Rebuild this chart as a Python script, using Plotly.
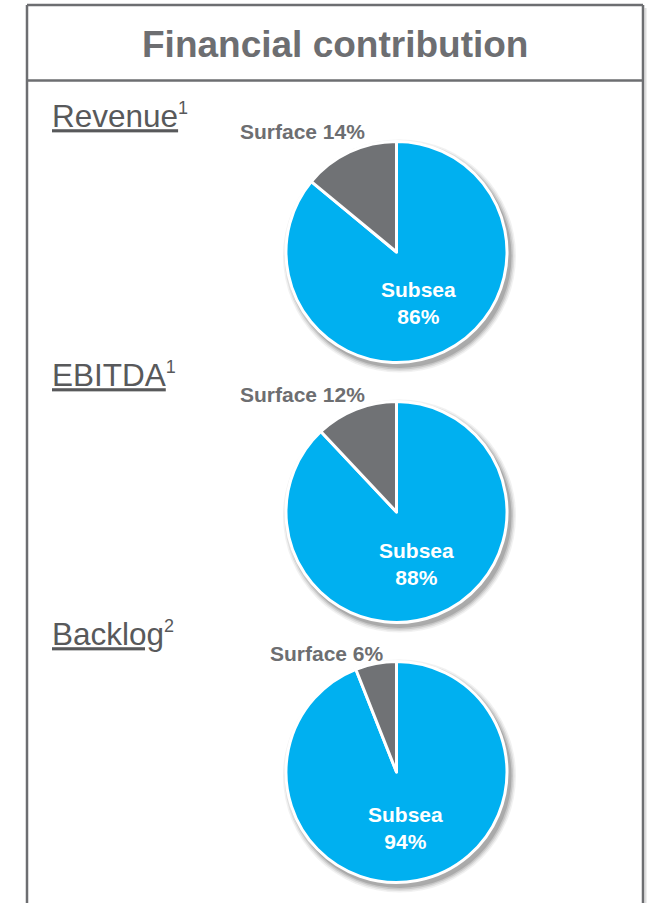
import plotly.graph_objects as go

W, H = 651, 903

# ---- data ----
panels = ["Revenue", "EBITDA", "Backlog"]
footnotes = ["1", "1", "2"]
segments = ["Subsea", "Surface"]
subsea_pct = [86, 88, 94]
surface_pct = [14, 12, 6]
title_text = "Financial contribution"

# ---- style ----
BLUE = "#00B0F0"
GREY_SLICE = "#707275"
TEXT_GREY = "#6D6E71"
LABEL_GREY = "#58595B"
BORDER = "#6D6E71"
FONT = "Liberation Sans, Arial, sans-serif"

cx = 396.5
cys = [252, 512, 772]
R = 110.5

# label layout (pixels)
surf_lbl = [(302.5, 132), (302.5, 394), (326.5, 653)]
sub_lbl = [(419, 303), (416.5, 564), (405.5, 828)]
left_lbl_y = [116, 375, 634]


def px(x):
    return x / W


def py(y):
    return (H - y) / H


fig = go.Figure()
shapes = []
annotations = []

for i, name in enumerate(panels):
    cy = cys[i]
    vals = [subsea_pct[i], surface_pct[i]]
    fig.add_trace(go.Pie(
        labels=segments,
        values=vals,
        sort=False,
        direction="clockwise",
        rotation=0,
        marker=dict(colors=[BLUE, GREY_SLICE], line=dict(color="white", width=3)),
        textinfo="none",
        hoverinfo="label+percent",
        showlegend=False,
        domain=dict(x=[px(cx - R), px(cx + R)], y=[py(cy + R), py(cy - R)]),
    ))
    # soft drop shadow
    for k, (grow, op) in enumerate([(6, 0.07), (4.5, 0.1), (3, 0.14), (1.5, 0.2)]):
        r2 = R + grow
        ox, oy = 3, 4
        shapes.append(dict(
            type="circle", xref="paper", yref="paper", layer="below",
            x0=px(cx + ox - r2), x1=px(cx + ox + r2),
            y0=py(cy + oy + r2), y1=py(cy + oy - r2),
            fillcolor=f"rgba(60,60,60,{op})", line=dict(width=0),
        ))
    # outside label for small slice
    sx, sy = surf_lbl[i]
    annotations.append(dict(
        x=px(sx), y=py(sy), xref="paper", yref="paper",
        xanchor="center", yanchor="middle", showarrow=False,
        text=f"<b>{segments[1]} {surface_pct[i]}%</b>",
        font=dict(family=FONT, size=21, color=TEXT_GREY),
    ))
    # inside label for big slice
    bx, by = sub_lbl[i]
    annotations.append(dict(
        x=px(bx), y=py(by), xref="paper", yref="paper",
        xanchor="center", yanchor="middle", showarrow=False,
        text=f"<b>{segments[0]}<br>{subsea_pct[i]}%</b>",
        font=dict(family=FONT, size=21, color="white"),
    ))
    # panel label on the left
    annotations.append(dict(
        x=px(50), y=py(left_lbl_y[i]), xref="paper", yref="paper",
        xanchor="left", yanchor="middle", showarrow=False,
        text=f"<u>{name}</u><sup><span style='font-size:18px'>{footnotes[i]}</span></sup>",
        font=dict(family=FONT, size=31.5, color=LABEL_GREY),
    ))

# title
annotations.append(dict(
    x=px(335), y=py(44.5), xref="paper", yref="paper",
    xanchor="center", yanchor="middle", showarrow=False,
    text=f"<b>{title_text}</b>",
    font=dict(family=FONT, size=37, color=TEXT_GREY),
))

# frame
L, Rr, T, SEP = 27, 643, 5, 80.5
shapes.append(dict(type="line", xref="paper", yref="paper", x0=px(Rr + 2.5), x1=px(Rr + 2.5),
                   y0=py(T + 3), y1=py(H + 10), line=dict(color="rgba(120,120,120,0.25)", width=2)))
shapes.append(dict(type="line", xref="paper", yref="paper", x0=px(L), x1=px(L),
                   y0=py(T), y1=py(H + 10), line=dict(color=BORDER, width=2.5)))
shapes.append(dict(type="line", xref="paper", yref="paper", x0=px(Rr), x1=px(Rr),
                   y0=py(T), y1=py(H + 10), line=dict(color=BORDER, width=2.5)))
shapes.append(dict(type="line", xref="paper", yref="paper", x0=px(L), x1=px(Rr),
                   y0=py(T), y1=py(T), line=dict(color=BORDER, width=2.5)))
shapes.append(dict(type="line", xref="paper", yref="paper", x0=px(L), x1=px(Rr),
                   y0=py(SEP), y1=py(SEP), line=dict(color=BORDER, width=2.5)))

fig.update_layout(
    width=W, height=H,
    margin=dict(l=0, r=0, t=0, b=0),
    paper_bgcolor="white", plot_bgcolor="white",
    shapes=shapes, annotations=annotations,
    showlegend=False,
)

fig.write_html(
    "out.html",
    config={"displayModeBar": False},
    post_script="document.body.style.margin='0px';document.body.style.overflow='hidden';",
)
